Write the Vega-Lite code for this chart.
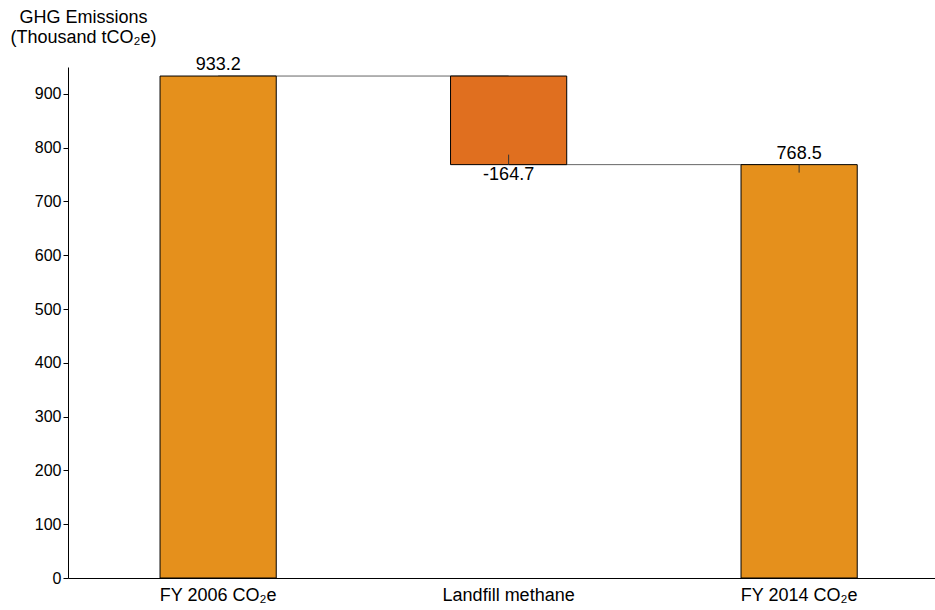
{
  "$schema": "https://vega.github.io/schema/vega-lite/v6.json",
  "width": 867,
  "height": 511,
  "autosize": {"type": "none"},
  "padding": {"left": 68, "top": 67, "right": 0, "bottom": 32},
  "background": "white",
  "config": {
    "view": {"stroke": null},
    "font": "Liberation Sans",
    "locale": {"number": {"decimal": ".", "thousands": ",", "grouping": [3], "currency": ["$", ""], "minus": "-"}},
    "axis": {"labelFont": "Liberation Sans", "titleFont": "Liberation Sans", "labelColor": "black", "titleColor": "black", "domainColor": "black", "tickColor": "black", "grid": false}
  },
  "datasets": {
    "steps": [
      {"step": "FY 2006 CO₂e", "start": 0, "end": 933.2, "amount": 933.2, "kind": "total"},
      {"step": "Landfill methane", "start": 933.2, "end": 768.5, "amount": -164.7, "kind": "decrease"},
      {"step": "FY 2014 CO₂e", "start": 0, "end": 768.5, "amount": 768.5, "kind": "total"}
    ],
    "links": [
      {"from": "FY 2006 CO₂e", "to": "Landfill methane", "level": 933.2},
      {"from": "Landfill methane", "to": "FY 2014 CO₂e", "level": 768.5}
    ]
  },
  "encoding": {
    "x": {
      "field": "step", "type": "nominal", "sort": null,
      "scale": {"type": "band", "domain": ["FY 2006 CO₂e", "Landfill methane", "FY 2014 CO₂e"], "paddingInner": 0.6, "paddingOuter": 0.2923, "align": 0.542},
      "axis": {"title": null, "ticks": false, "labelAngle": 0, "labelFontSize": 18, "labelPadding": 8, "domainWidth": 1}
    }
  },
  "layer": [
    {
      "data": {"name": "links"},
      "mark": {"type": "rule", "color": "#666666", "strokeWidth": 1},
      "encoding": {
        "x": {"field": "from", "type": "nominal"},
        "x2": {"field": "to"},
        "y": {"field": "level", "type": "quantitative"}
      }
    },
    {
      "data": {"name": "steps"},
      "mark": {"type": "bar", "stroke": "black", "strokeWidth": 1},
      "encoding": {
        "y": {
          "field": "start", "type": "quantitative",
          "scale": {"domain": [0, 950], "nice": false, "zero": true},
          "axis": {
            "title": ["GHG Emissions", "(Thousand tCO₂e)"],
            "titleAngle": 0, "titleAlign": "center", "titleBaseline": "top",
            "titleX": 15, "titleY": -59, "titleFontSize": 18, "titleFontWeight": "normal", "titleLineHeight": 20,
            "values": [0, 100, 200, 300, 400, 500, 600, 700, 800, 900],
            "labelFontSize": 16, "labelPadding": 2, "tickSize": 5, "domainWidth": 1
          }
        },
        "y2": {"field": "end"},
        "fill": {
          "field": "kind", "type": "nominal",
          "scale": {"domain": ["total", "decrease"], "range": ["#E5901C", "#E06F1F"]},
          "legend": null
        }
      }
    },
    {
      "data": {"name": "steps"},
      "transform": [{"filter": "datum.step === 'FY 2014 CO₂e'"}],
      "mark": {"type": "rule", "color": "#333333", "strokeWidth": 1, "y2Offset": 8},
      "encoding": {
        "y": {"field": "end", "type": "quantitative"},
        "y2": {"field": "end"}
      }
    },
    {
      "data": {"name": "steps"},
      "transform": [{"filter": "datum.kind === 'decrease'"}],
      "mark": {"type": "rule", "color": "#333333", "strokeWidth": 1, "y2Offset": -10},
      "encoding": {
        "y": {"field": "end", "type": "quantitative"},
        "y2": {"field": "end"}
      }
    },
    {
      "data": {"name": "steps"},
      "transform": [{"filter": "datum.kind === 'total'"}],
      "mark": {"type": "text", "fontSize": 18, "baseline": "bottom", "dy": -2, "color": "black"},
      "encoding": {
        "y": {"field": "end", "type": "quantitative"},
        "text": {"field": "amount", "type": "quantitative", "format": ".1f"}
      }
    },
    {
      "data": {"name": "steps"},
      "transform": [{"filter": "datum.kind === 'decrease'"}],
      "mark": {"type": "text", "fontSize": 18, "baseline": "top", "dy": 1, "color": "black"},
      "encoding": {
        "y": {"field": "end", "type": "quantitative"},
        "text": {"field": "amount", "type": "quantitative", "format": ".1f"}
      }
    }
  ]
}
